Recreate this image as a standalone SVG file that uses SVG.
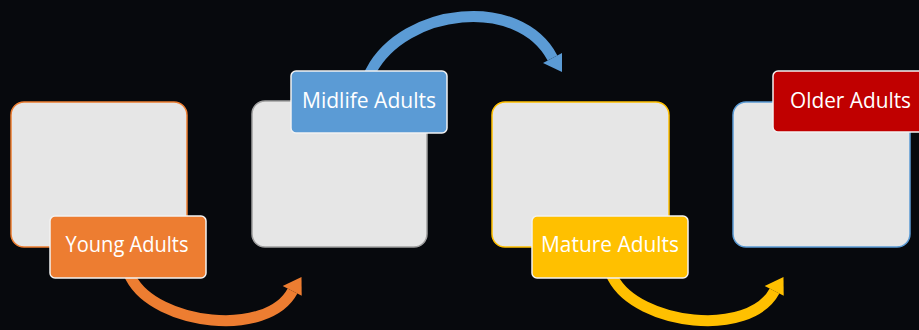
<svg xmlns="http://www.w3.org/2000/svg" width="919" height="330" viewBox="0 0 919 330">
  <defs>
    <style>
      .card { fill: #E6E6E6; stroke-width: 1.5; }
      .tag { stroke: #F2F2F2; stroke-width: 1.5; }
      .tag-text { font-family: "Open Sans", "Liberation Sans", sans-serif; font-size: 21px; fill: #FFFFFF; text-anchor: middle; }
      .flow { fill: none; stroke-width: 11; }
    </style>
  </defs>

  <rect x="0" y="0" width="919" height="330" fill="#07090D"/>

  <!-- curved arrows between the stages -->
  <g id="connectors">
    <path class="flow" stroke="#ED7D31" d="M129.1,274.5 L131,278 C156.1,325.3 267.4,338.3 292.5,291"/>
    <polygon fill="#ED7D31" points="301.5,277 282.7,286 301.7,295.7"/>

    <path class="flow" stroke="#5B9BD5" d="M369.1,74.5 L371,71 C404.6,7.7 518.9,-5.3 552.5,58"/>
    <polygon fill="#5B9BD5" points="562,72 543,63 562,53"/>

    <path class="flow" stroke="#FFC000" d="M611.1,274.5 L613,278 C638.1,325.3 749.4,338.3 774.5,291"/>
    <polygon fill="#FFC000" points="783.5,277 764.7,286 783.7,295.7"/>
  </g>

  <g id="young-adults">
    <rect class="card" x="11" y="102" width="176" height="145" rx="13" stroke="#ED7D31"/>
    <rect class="tag" x="50" y="216" width="156" height="62" rx="5" fill="#ED7D31"/>
    <text class="tag-text" x="127" y="252" textLength="123" lengthAdjust="spacingAndGlyphs">Young Adults</text>
  </g>

  <g id="midlife-adults">
    <rect class="card" x="252" y="101" width="175" height="146" rx="13" stroke="#A0A0A0"/>
    <rect class="tag" x="291" y="71" width="156" height="62" rx="5" fill="#5B9BD5"/>
    <text class="tag-text" x="369" y="108" textLength="134" lengthAdjust="spacingAndGlyphs">Midlife Adults</text>
  </g>

  <g id="mature-adults">
    <rect class="card" x="492" y="102" width="177" height="145" rx="13" stroke="#FFC000"/>
    <rect class="tag" x="532" y="216" width="156" height="62" rx="5" fill="#FFC000"/>
    <text class="tag-text" x="610" y="252" textLength="138" lengthAdjust="spacingAndGlyphs">Mature Adults</text>
  </g>

  <g id="older-adults">
    <rect class="card" x="733" y="102" width="177" height="145" rx="13" stroke="#5B9BD5"/>
    <rect class="tag" x="773" y="71" width="156" height="61" rx="5" fill="#C00000"/>
    <text class="tag-text" x="850.5" y="108" textLength="121" lengthAdjust="spacingAndGlyphs">Older Adults</text>
  </g>
</svg>
